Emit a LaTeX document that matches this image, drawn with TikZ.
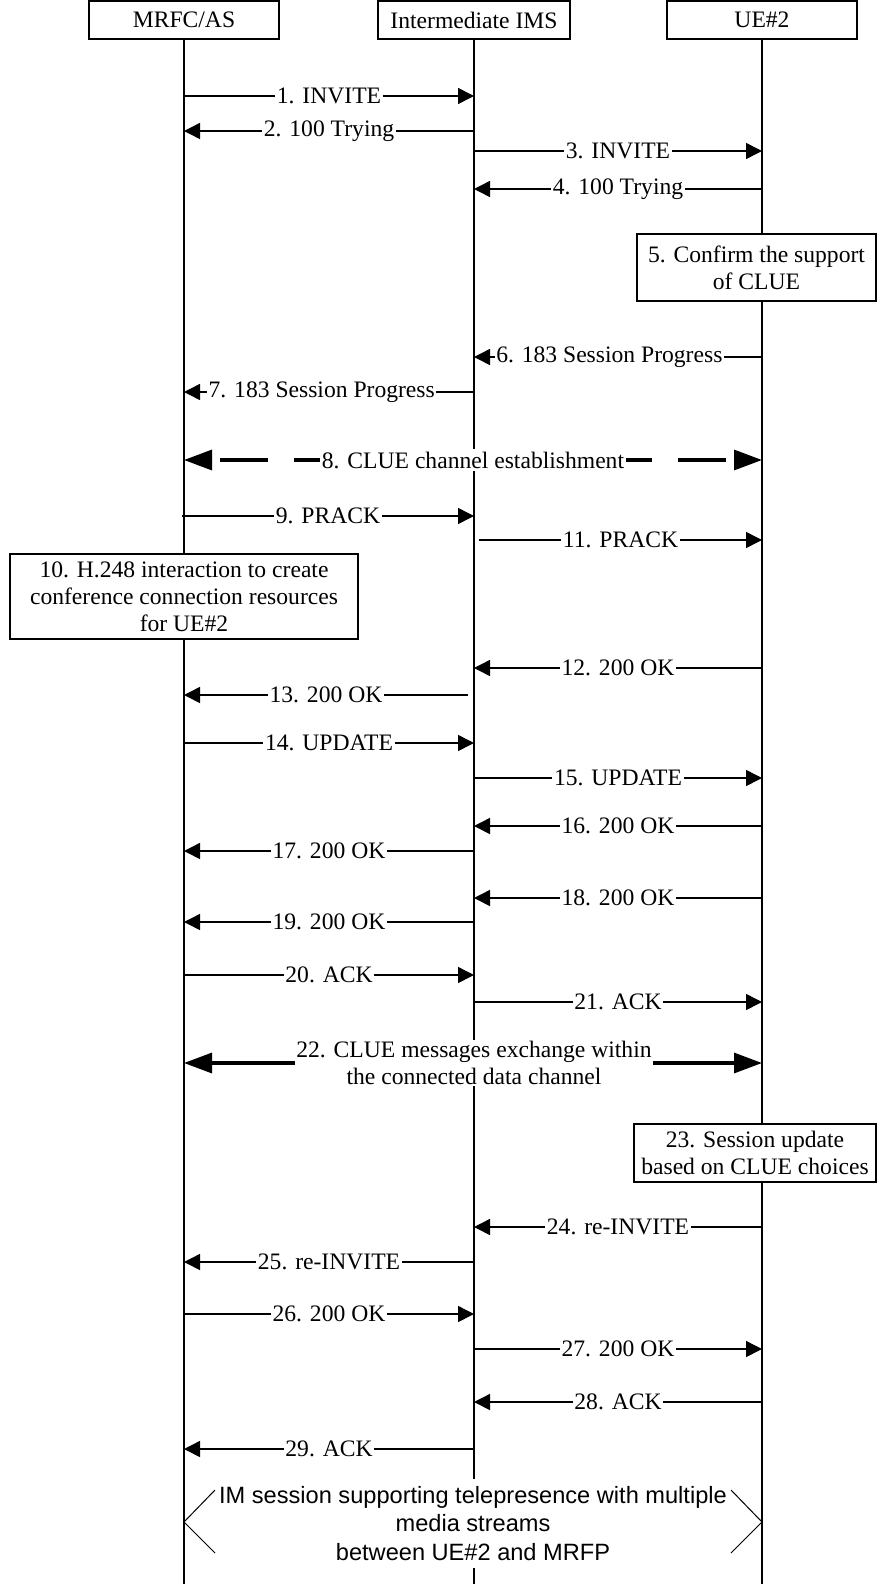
\documentclass[tikz,border=0pt]{standalone}
\usepackage{fontspec}
\setmainfont{Liberation Serif}
\newfontfamily\arialfont{Liberation Sans}
\usetikzlibrary{arrows.meta}
\newcommand\seqmsg[6]{% #1 name, #2 y, #3 x from, #4 x to, #5 pos, #6 label
  \coordinate (#1a) at (#3,#2);
  \coordinate (#1b) at (#4,#2);
  \draw[msgline] (#1a) -- node[lbl,pos=#5] (#1l) {#6} (#1b);
}
\begin{document}
\begin{tikzpicture}[x=0.5pt,y=-0.5pt,
  every node/.style={font=\fontsize{11.8}{13.5}\selectfont},
  head/.style={draw,line width=0.75pt,minimum width=95pt,minimum height=19pt,inner sep=0pt,fill=white},
  actbox/.style={draw,line width=0.75pt,fill=white,align=center,inner sep=0pt},
  life/.style={line width=0.75pt},
  msgline/.style={line width=0.75pt,-{Triangle[length=8pt,width=8pt]}},
  lbl/.style={fill=white,inner xsep=0.8pt,inner ysep=1.5pt},
  cluedash/.style={line width=1.6pt,-{Triangle[length=14pt,width=10pt]},dash pattern=on 24pt off 13pt,dash phase=8.5pt},
  cluesolid/.style={line width=1.6pt,{Triangle[length=14pt,width=10pt]}-{Triangle[length=14pt,width=10pt]}},
  thinline/.style={line width=0.5pt}]

\useasboundingbox (0,0) rectangle (877,1584);
\coordinate (bot) at (0,1584);

% headers
\node[head] (mrfc) at (184,20) {MRFC/AS};
\node[head,minimum width=96pt] (ims) at (474,20) {Intermediate IMS};
\node[head] (ue) at (762,20) {UE\#2};

% lifelines
\draw[life] (mrfc.south) -- (mrfc.south |- bot);
\draw[life] (ims.south) -- (ims.south |- bot);
\draw[life] (ue.south) -- (ue.south |- bot);

% messages
\seqmsg{m1}{96}{184}{474}{0.5}{1. INVITE}
\seqmsg{m2}{131}{474}{184}{0.5}{2. 100 Trying}
\seqmsg{m3}{151}{474}{762}{0.5}{3. INVITE}
\seqmsg{m4}{189}{762}{474}{0.5}{4. 100 Trying}

\node[actbox,minimum width=119.5pt,minimum height=33.5pt] (b5) at (756.5,267.5) {5. Confirm the support\\of CLUE};

\seqmsg{m6}{357}{762}{474}{0.53}{6. 183 Session Progress}
\seqmsg{m7}{392}{474}{184}{0.525}{7. 183 Session Progress}

% 8. CLUE channel establishment
\coordinate (c8l) at (184,460);
\coordinate (c8r) at (762,460);
\coordinate (c8m) at (473,460);
\draw[cluedash] (c8m) -- (c8l);
\draw[cluedash] (c8m) -- (c8r);
\node[lbl] (c8) at (c8m) {8. CLUE channel establishment};

\seqmsg{m9}{516}{182}{474}{0.5}{9. PRACK}
\seqmsg{m11}{540}{479}{762}{0.5}{11. PRACK}

\node[actbox,minimum width=174pt,minimum height=42.5pt] (b10) at (184,596.5) {10. H.248 interaction to create\\conference connection resources\\for UE\#2};

\seqmsg{m12}{668}{762}{474}{0.5}{12. 200 OK}
\seqmsg{m13}{695}{468}{184}{0.5}{13. 200 OK}
\seqmsg{m14}{743}{184}{474}{0.5}{14. UPDATE}
\seqmsg{m15}{778}{474}{762}{0.5}{15. UPDATE}
\seqmsg{m16}{826}{762}{474}{0.5}{16. 200 OK}
\seqmsg{m17}{851}{474}{184}{0.5}{17. 200 OK}
\seqmsg{m18}{898}{762}{474}{0.5}{18. 200 OK}
\seqmsg{m19}{922}{474}{184}{0.5}{19. 200 OK}
\seqmsg{m20}{975}{184}{474}{0.5}{20. ACK}
\seqmsg{m21}{1002}{474}{762}{0.5}{21. ACK}

% 22. CLUE messages
\coordinate (c22l) at (184,1063);
\coordinate (c22r) at (762,1063);
\draw[cluesolid] (c22l) -- (c22r);
\node[lbl,align=center,inner ysep=0.5pt] (c22) at (474,1063) {22. CLUE messages exchange within\\the connected data channel};

\node[actbox,minimum width=121pt,minimum height=29pt] (b23) at (755,1153) {23. Session update\\based on CLUE choices};

\seqmsg{m24}{1227}{762}{474}{0.5}{24. re-INVITE}
\seqmsg{m25}{1262}{474}{184}{0.5}{25. re-INVITE}
\seqmsg{m26}{1314}{184}{474}{0.5}{26. 200 OK}
\seqmsg{m27}{1349}{474}{762}{0.5}{27. 200 OK}
\seqmsg{m28}{1402}{762}{474}{0.5}{28. ACK}
\seqmsg{m29}{1449}{474}{184}{0.5}{29. ACK}

% final session
\node[fill=white,align=center,font=\arialfont\fontsize{11.8}{14.2}\selectfont,inner xsep=1pt,inner ysep=0pt,minimum height=44.5pt] (im) at (473,1523.5) {IM session supporting telepresence with multiple\\media streams\\between UE\#2 and MRFP};
\coordinate (hl1) at (215,1490);
\coordinate (hl) at (184,1522);
\coordinate (hl2) at (215,1553);
\coordinate (hr1) at (731,1490);
\coordinate (hr) at (762,1522);
\coordinate (hr2) at (731,1553);
\draw[thinline] (hl1) -- (hl) -- (hl2);
\draw[thinline] (hr1) -- (hr) -- (hr2);
\end{tikzpicture}
\end{document}
